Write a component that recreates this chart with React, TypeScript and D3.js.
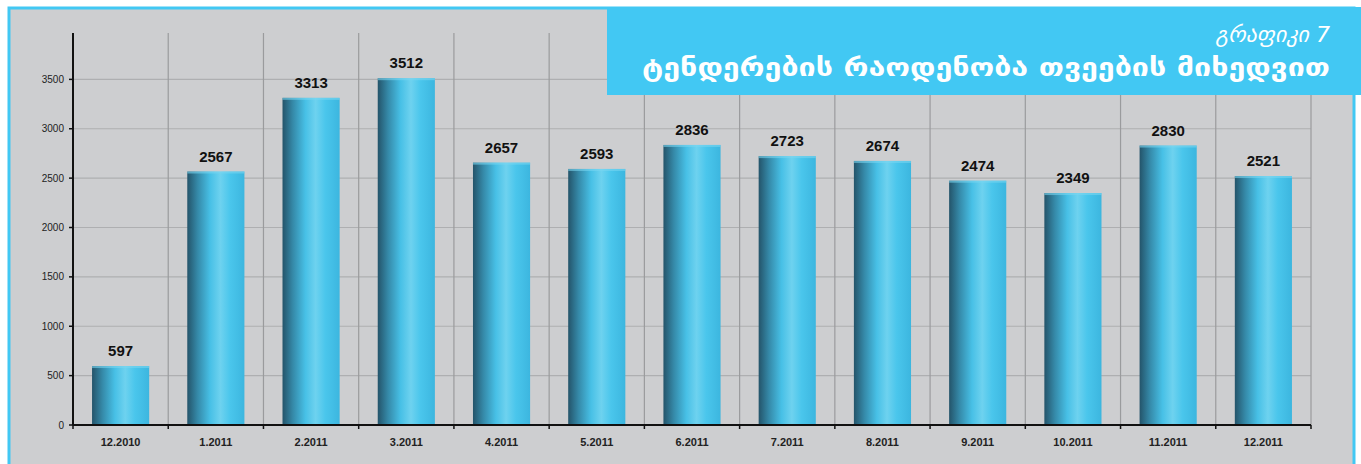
import * as d3 from 'd3'
import React from 'react'

// Chart data
const months = ['12.2010', '1.2011', '2.2011', '3.2011', '4.2011', '5.2011', '6.2011', '7.2011', '8.2011', '9.2011', '10.2011', '11.2011', '12.2011']
const tenders = [597, 2567, 3313, 3512, 2657, 2593, 2836, 2723, 2674, 2474, 2349, 2830, 2521]
const yTicks = [0, 500, 1000, 1500, 2000, 2500, 3000, 3500]
const subtitle = 'გრაფიკი 7'
const title = 'ტენდერების რაოდენობა თვეების მიხედვით'

const W = 1361
const H = 464
const margin = { top: 30, right: 50, bottom: 39, left: 73 }
const cyan = '#42c8f3'

const App = () => {
    const x = d3.scaleBand()
        .domain(months)
        .range([margin.left, W - margin.right])
        .paddingInner(0.4)
        .paddingOuter(0.2)

    const y = d3.scaleLinear()
        .domain([0, 4000])
        .range([H - margin.bottom, margin.top])

    const step = x.step()
    const x0 = margin.left
    const x1 = W - margin.right
    const dividers = months.map((m, i) => x0 + step * (i + 1))

    return (
        <svg width={W} height={H} style={{ position: 'absolute', left: 0, top: 0, display: 'block' }}
            fontFamily="'Liberation Sans', Arial, sans-serif">
            <defs>
                <linearGradient id="barGrad" x1="0" x2="1" y1="0" y2="0">
                    <stop offset="0%" stopColor="#24546a" />
                    <stop offset="18%" stopColor="#3589a8" />
                    <stop offset="40%" stopColor="#47c0e6" />
                    <stop offset="58%" stopColor="#6ed2ef" />
                    <stop offset="75%" stopColor="#4ac6ec" />
                    <stop offset="100%" stopColor="#3cb6df" />
                </linearGradient>
            </defs>

            {/* Background and frame */}
            <rect x={0} y={0} width={W} height={H} fill="#ffffff" />
            <rect x={9} y={8} width={W - 16} height={H + 10} fill="#cdced0" stroke={cyan} strokeWidth={3} />

            {/* Horizontal grid */}
            {yTicks.filter(t => t > 0).map(t => (
                <line key={'h' + t} x1={x0} x2={x1} y1={y(t)} y2={y(t)} stroke="#aeafb1" strokeWidth={1.2} />
            ))}

            {/* Vertical grid */}
            {dividers.map((d, i) => (
                <line key={'v' + i} x1={d} x2={d} y1={y(4000) + 3} y2={y(0)} stroke="#9a9b9d" strokeWidth={1.2} />
            ))}

            {/* Bars */}
            {tenders.map((v, i) => (
                <g key={'b' + i}>
                    <rect x={x(months[i])} y={y(v)} width={x.bandwidth()} height={y(0) - y(v)} fill="url(#barGrad)" />
                    <rect x={x(months[i])} y={y(v)} width={x.bandwidth()} height={2} fill="#7ad6f0" opacity={0.6} />
                    <text x={x(months[i])! + x.bandwidth() / 2} y={y(v) - 10} textAnchor="middle"
                        fontSize={15} fontWeight="bold" fill="#111">{v}</text>
                </g>
            ))}

            {/* Axes */}
            <line x1={x0} x2={x0} y1={y(4000) + 3} y2={y(0)} stroke="#111" strokeWidth={2} />
            <line x1={x0} x2={x1} y1={y(0)} y2={y(0)} stroke="#111" strokeWidth={2} />
            {yTicks.map(t => (
                <g key={'yt' + t}>
                    <line x1={x0 - 4} x2={x0} y1={y(t)} y2={y(t)} stroke="#111" strokeWidth={1.5} />
                    <text x={x0 - 9} y={y(t) + 3.5} textAnchor="end" fontSize={10} fill="#222">{t}</text>
                </g>
            ))}
            {[x0, ...dividers].map((d, i) => (
                <line key={'xt' + i} x1={d} x2={d} y1={y(0)} y2={y(0) + 4} stroke="#111" strokeWidth={1.5} />
            ))}
            {months.map(m => (
                <text key={'xl' + m} x={x(m)! + x.bandwidth() / 2} y={y(0) + 21} textAnchor="middle"
                    fontSize={11} fontWeight="bold" fill="#222">{m}</text>
            ))}

            {/* Title box */}
            <rect x={607} y={7} width={W - 607} height={88} fill={cyan} />
            <text x={1330} y={42} textAnchor="end" fontSize={22} fontStyle="italic" fill="#ffffff"
                fontFamily="'DejaVu Sans', sans-serif" fontWeight={300}>{subtitle}</text>
            <text x={1330} y={76} textAnchor="end" fontSize={25} fontWeight="bold" fill="#ffffff"
                fontFamily="'DejaVu Sans', sans-serif" textLength={688} lengthAdjust="spacingAndGlyphs">{title}</text>
        </svg>
    )
}

export default App
